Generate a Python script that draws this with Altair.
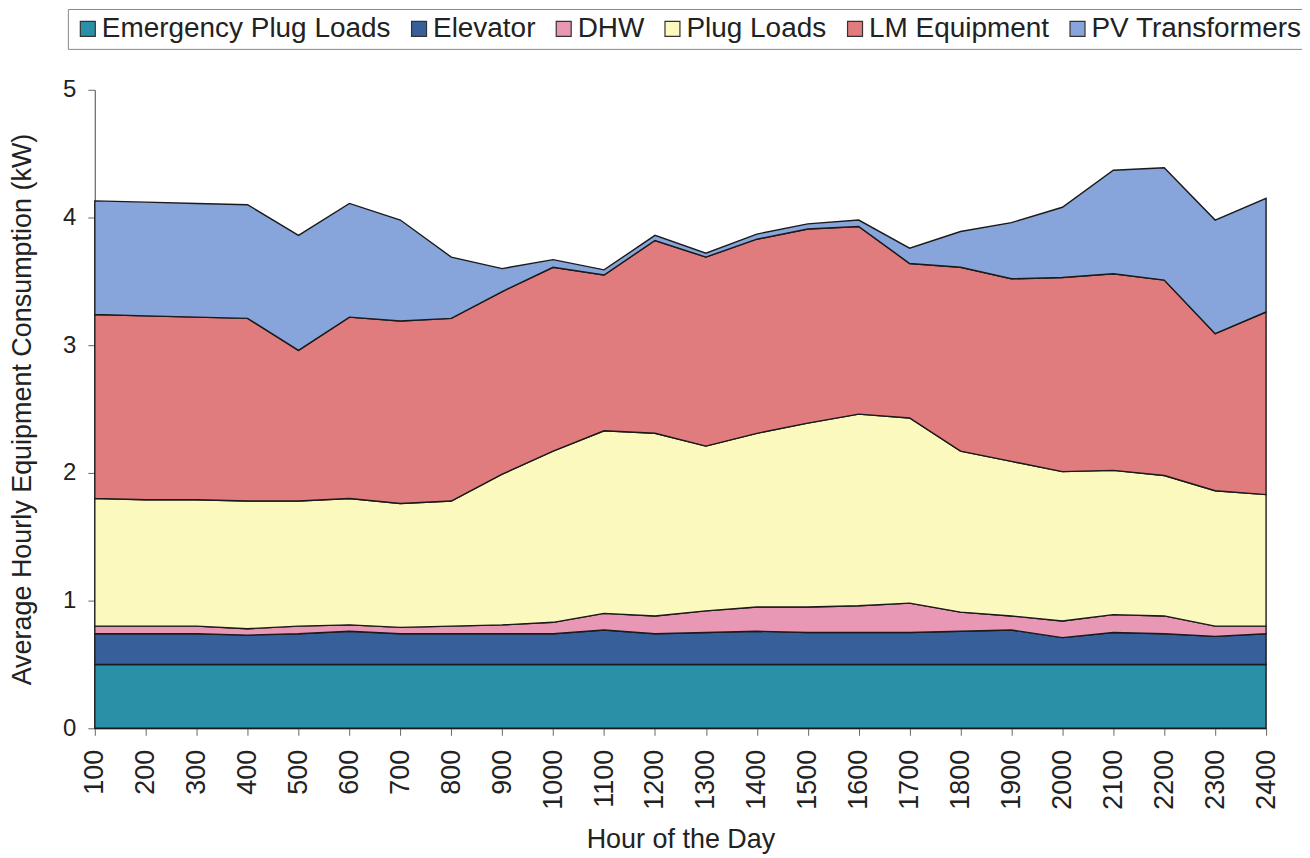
import altair as alt
import pandas as pd

hours = [100, 200, 300, 400, 500, 600, 700, 800, 900, 1000, 1100, 1200,
         1300, 1400, 1500, 1600, 1700, 1800, 1900, 2000, 2100, 2200, 2300, 2400]

series_names = ["Emergency Plug Loads", "Elevator", "DHW", "Plug Loads",
                "LM Equipment", "PV Transformers"]
series_colors = ["#2A90A8", "#37609A", "#E898B5", "#FCF9BE", "#E07C7D", "#87A5DA"]

emergency = [0.50, 0.50, 0.50, 0.50, 0.50, 0.50, 0.50, 0.50, 0.50, 0.50, 0.50, 0.50,
             0.50, 0.50, 0.50, 0.50, 0.50, 0.50, 0.50, 0.50, 0.50, 0.50, 0.50, 0.50]
elevator = [0.24, 0.24, 0.24, 0.23, 0.24, 0.26, 0.24, 0.24, 0.24, 0.24, 0.27, 0.24,
            0.25, 0.26, 0.25, 0.25, 0.25, 0.26, 0.27, 0.21, 0.25, 0.24, 0.22, 0.24]
dhw = [0.06, 0.06, 0.06, 0.05, 0.06, 0.05, 0.05, 0.06, 0.07, 0.09, 0.13, 0.14,
       0.17, 0.19, 0.20, 0.21, 0.23, 0.15, 0.11, 0.13, 0.14, 0.14, 0.08, 0.06]
plug_loads = [1.00, 0.99, 0.99, 1.00, 0.98, 0.99, 0.97, 0.98, 1.18, 1.34, 1.43, 1.43,
              1.29, 1.36, 1.44, 1.50, 1.45, 1.26, 1.21, 1.17, 1.13, 1.10, 1.06, 1.03]
lm_equipment = [1.44, 1.44, 1.43, 1.43, 1.18, 1.42, 1.43, 1.43, 1.43, 1.44, 1.22, 1.51,
                1.48, 1.52, 1.52, 1.47, 1.21, 1.44, 1.43, 1.52, 1.54, 1.53, 1.23, 1.43]
pv_transformers = [0.89, 0.89, 0.89, 0.89, 0.90, 0.89, 0.79, 0.48, 0.18, 0.06, 0.04, 0.04,
                   0.03, 0.04, 0.04, 0.05, 0.12, 0.28, 0.44, 0.55, 0.81, 0.88, 0.89, 0.89]

y_ticks = [0, 1, 2, 3, 4, 5]

all_values = [emergency, elevator, dhw, plug_loads, lm_equipment, pv_transformers]
rows = []
for idx, (name, vals) in enumerate(zip(series_names, all_values)):
    for h, v in zip(hours, vals):
        rows.append({"hour": h, "value": v, "series": name, "idx": idx})
df = pd.DataFrame(rows)

FONT = "Liberation Sans"

chart = alt.Chart(df).mark_area(
    stroke="#1a1a1a", strokeWidth=1.4, opacity=1
).encode(
    x=alt.X("hour:Q",
            scale=alt.Scale(domain=[100, 2400], nice=False, zero=False),
            axis=alt.Axis(values=hours, format="d", labelAngle=270,
                          labelFontSize=27, labelPadding=14,
                          title="Hour of the Day", titleFontSize=27,
                          titleX=587, titleY=119, titleAlign="center",
                          titleBaseline="alphabetic")),
    y=alt.Y("value:Q", stack="zero",
            scale=alt.Scale(domain=[0, 5], nice=False),
            axis=alt.Axis(values=y_ticks, labelFontSize=24, labelPadding=12,
                          title="Average Hourly Equipment Consumption (kW)",
                          titleFontSize=27, titleAngle=270, titleX=-64, titleY=320,
                          titleAlign="center", titleBaseline="alphabetic")),
    color=alt.Color("series:N",
                    scale=alt.Scale(domain=series_names, range=series_colors),
                    legend=alt.Legend(title=None, orient="none", legendX=-27, legendY=-81,
                                      direction="horizontal", columns=6,
                                      symbolType="square", symbolSize=225,
                                      symbolStrokeColor="#333", symbolStrokeWidth=1.2,
                                      labelFontSize=28, labelFont=FONT, labelColor="#222",
                                      labelLimit=500, labelOffset=0, columnPadding=14,
                                      padding=6, strokeColor="#888", fillColor="white")),
    order=alt.Order("idx:Q", sort="ascending"),
).properties(
    width=1174, height=640,
    autosize=alt.AutoSizeParams(type="none"),
    padding={"left": 87, "top": 81, "right": 36, "bottom": 125},
).configure_view(
    stroke=None
).configure_axis(
    grid=False, domainColor="#666", tickColor="#666", tickSize=7,
    labelFont=FONT, titleFont=FONT, labelColor="#222", titleColor="#222",
    titleFontWeight="normal", domainWidth=1.2
)

chart.save("out.html", embed_options={"renderer": "svg", "actions": False})
